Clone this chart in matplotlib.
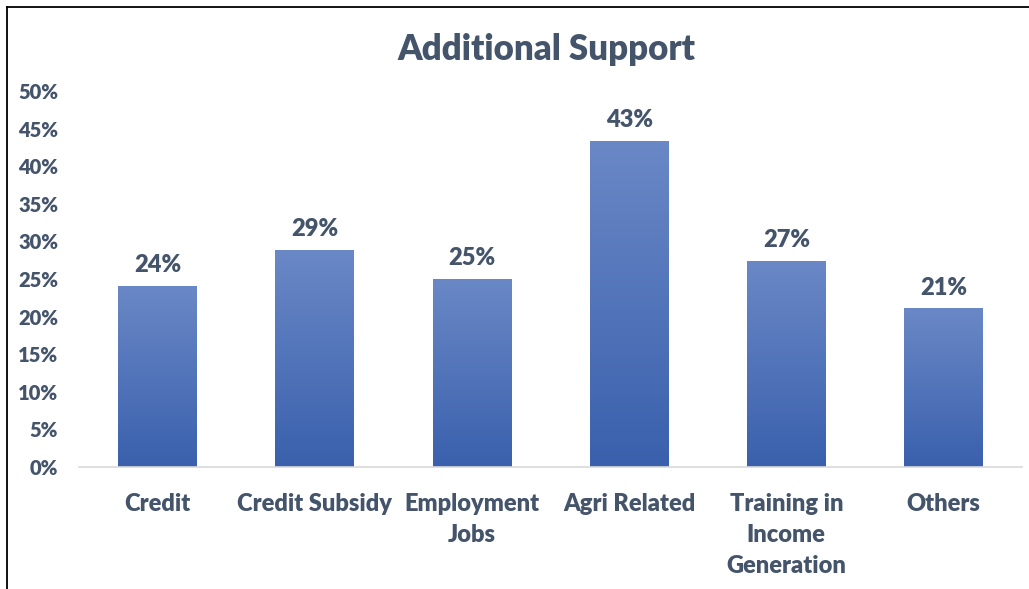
import numpy as np
import matplotlib.pyplot as plt
from matplotlib.colors import LinearSegmentedColormap
from matplotlib.lines import Line2D

categories = ["Credit", "Credit Subsidy", "Employment\nJobs", "Agri Related",
              "Training in\nIncome\nGeneration", "Others"]
shares = [24.1, 28.9, 25.0, 43.4, 27.4, 21.1]
y_ticks = [0, 5, 10, 15, 20, 25, 30, 35, 40, 45, 50]

TEXT = "#44546a"
FONT = "Lato"
WEIGHT = 800

plt.rcParams["font.family"] = [FONT, "DejaVu Sans"]
plt.rcParams["font.weight"] = WEIGHT

fig = plt.figure(figsize=(10.29, 5.89), dpi=100)
ax = fig.add_axes([79 / 1029, 1 - 467 / 589, 943 / 1029, 376 / 589])

x = np.arange(len(categories))
bars = ax.bar(x, shares, width=0.5, color="none", edgecolor="none", zorder=2)

# vertical gradient fill, lighter on top
grad = LinearSegmentedColormap.from_list("bar", ["#3a60ad", "#6a88c6"])
for b in bars:
    x0, y0 = b.get_x(), b.get_y()
    w, h = b.get_width(), b.get_height()
    img = ax.imshow(np.linspace(0, 1, 256).reshape(-1, 1), cmap=grad,
                    extent=[x0, x0 + w, y0, y0 + h], origin="lower",
                    aspect="auto", zorder=2)
    img.set_clip_path(b)
    ax.text(x0 + w / 2, h + 1.3, f"{h:.0f}%", ha="center", va="bottom",
            fontsize=17, fontweight=WEIGHT, color=TEXT)

ax.set_xlim(-0.5, len(categories) - 0.5)
ax.set_ylim(0, 50)
ax.set_yticks(y_ticks)
ax.set_yticklabels([f"{v}%" for v in y_ticks], fontsize=14.5,
                   fontweight=WEIGHT, color=TEXT)
ax.set_xticks(x)
ax.set_xticklabels(categories, fontsize=17, fontweight=WEIGHT, color=TEXT,
                   linespacing=1.5, va="top")
ax.tick_params(axis="both", length=0)
ax.tick_params(axis="x", pad=18.5)
ax.tick_params(axis="y", pad=15)

for side in ["top", "right", "left"]:
    ax.spines[side].set_visible(False)
ax.spines["bottom"].set_color("#d9d9d9")
ax.spines["bottom"].set_linewidth(1.2)

fig.text(546 / 1029, 1 - 50 / 589, "Additional Support", ha="center",
         va="center", fontsize=25, fontweight=WEIGHT, color=TEXT)

# outer chart frame (left and top edges)
fig.add_artist(Line2D([6.5 / 1029, 6.5 / 1029], [0, 1 - 6.5 / 589],
                      transform=fig.transFigure, color="black", lw=1.3))
fig.add_artist(Line2D([6.5 / 1029, 1], [1 - 6.5 / 589, 1 - 6.5 / 589],
                      transform=fig.transFigure, color="black", lw=1.3))

fig.savefig("out.png", dpi=100, facecolor="white")
